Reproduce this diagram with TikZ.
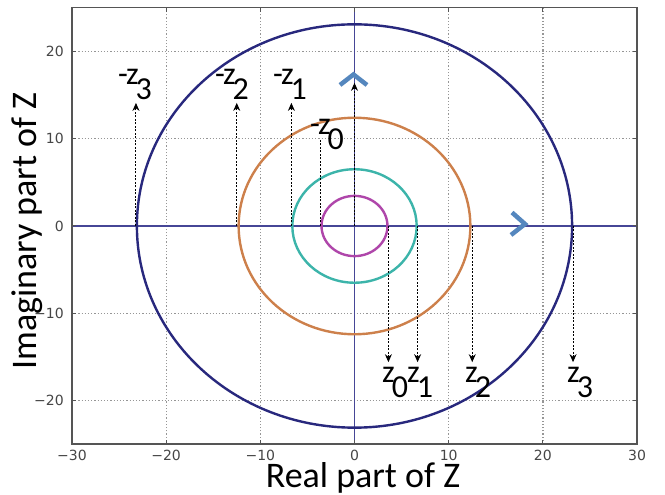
\documentclass[tikz,border=0pt]{standalone}
\usepackage{fontspec}
\setmainfont{Carlito}
\newfontfamily\tickfont{DejaVu Sans}
\usetikzlibrary{arrows.meta}
\definecolor{cblue}{RGB}{40,40,125}
\definecolor{corange}{RGB}{205,128,75}
\definecolor{cteal}{RGB}{60,180,170}
\definecolor{cmag}{RGB}{175,70,170}
\definecolor{caxis}{RGB}{70,70,150}
\definecolor{cchev}{RGB}{85,135,190}
\definecolor{cframe}{RGB}{85,85,85}
\definecolor{ctick}{RGB}{70,70,70}
\definecolor{cgrid}{RGB}{150,150,150}
\newcommand{\zsub}[1]{z\kern-3pt\raisebox{-15pt}{#1}}
\newcommand{\mzsub}[1]{-\kern-2pt\zsub{#1}}
\begin{document}
\begin{tikzpicture}[
  gridline/.style={cgrid, line width=1.2pt, dash pattern=on 1.2pt off 2pt},
  axisline/.style={caxis, line width=1.1pt},
  ring/.style={line width=2.4pt},
  proj/.style={black, line width=1pt, dash pattern=on 2pt off 1.5pt},
  projarrow/.style={proj, -{Stealth[length=8pt,width=7pt]}},
  chev/.style={cchev, line width=4.5pt},
  zlab/.style={font=\fontsize{32}{32}\selectfont, inner sep=0pt, anchor=base west},
  ticklab/.style={font=\tickfont\fontsize{14}{14}\selectfont, text=ctick, inner sep=0pt},
  axlab/.style={font=\fontsize{36}{36}\selectfont, inner sep=0pt},
  tickmark/.style={cframe, line width=1pt},
]
\useasboundingbox (0,0) rectangle (665pt,495pt);
\fill[white] (0,0) rectangle (665pt,495pt);
\begin{scope}[shift={(354.5pt,269pt)}, x=9.42pt, y=8.73pt]
  % grid
  \foreach \v in {-20,-10,10,20} {
    \draw[gridline] (\v,-25) -- (\v,25);
    \draw[gridline] (-30,\v) -- (30,\v);
  }
  % axes
  \draw[axisline] (-30,0) -- (30,0);
  \draw[axisline] (0,-25) -- (0,25);
  % circles
  \draw[ring,cblue] (0,0) ellipse [x radius=23.1, y radius=23.1];
  \draw[ring,corange] (0,0) ellipse [x radius=12.3, y radius=12.4];
  \draw[ring,cteal] (0,0) ellipse [x radius=6.6, y radius=6.5];
  \draw[ring,cmag] (0,0) ellipse [x radius=3.5, y radius=3.45];
  % projection coordinates
  \coordinate (o) at (0,0);
  \coordinate (ctop) at (0,16.4);
  \foreach \n/\x in {0/3.6,1/6.7,2/12.5,3/23.2} {
    \coordinate (pb\n) at (\x,0);
    \coordinate (pt\n) at (\x,-15.6);
    \coordinate (nb\n) at (-\x,0);
  }
  \coordinate (nt1) at (-6.7,14.1);
  \coordinate (nt2) at (-12.5,14.1);
  \coordinate (nt3) at (-23.2,14.1);
  \coordinate (nt0) at (-3.6,9.85);
  \draw[projarrow] (nb1) -- (nt1);
  \draw[projarrow] (nb2) -- (nt2);
  \draw[projarrow] (nb3) -- (nt3);
  \draw[proj] (nb0) -- (nt0);
  \draw[projarrow] (o) -- (ctop);
  \foreach \n in {0,1,2,3} { \draw[projarrow] (pb\n) -- (pt\n); }
  % tick marks
  \foreach \v in {-20,-10,0,10,20} {
    \draw[tickmark] (\v,-25) -- ++(0,4pt);
    \draw[tickmark] (\v,25) -- ++(0,-4pt);
    \draw[tickmark] (-30,\v) -- ++(4pt,0);
    \draw[tickmark] (30,\v) -- ++(-4pt,0);
  }
  % tick labels
  \foreach \v/\t [count=\i] in {-30/−30,-20/−20,-10/−10,0/0,10/10,20/20,30/30} {
    \node[ticklab, anchor=north] (xt\i) at ([yshift=-6pt]\v,-25) {\t};
  }
  \foreach \v/\t [count=\i] in {-20/−20,-10/−10,0/0,10/10,20/20} {
    \node[ticklab, anchor=east] (yt\i) at ([xshift=-8pt]-30,\v) {\t};
  }
  % frame
  \draw[cframe, line width=1.5pt] (-30,-25) rectangle (30,25);
\end{scope}
% chevrons
\draw[chev] (512pt,282.5pt) -- (525pt,271pt) -- (511pt,260pt);
\draw[chev] (340pt,410pt) -- (353.5pt,420.5pt) -- (367pt,410pt);
% labels
\node[zlab] (lm3) at (118pt,410pt) {\mzsub{3}};
\node[zlab] (lm2) at (215pt,410pt) {\mzsub{2}};
\node[zlab] (lm1) at (273pt,410pt) {\mzsub{1}};
\node[zlab] (lm0) at (310pt,360pt) {\mzsub{0}};
\node[zlab] (lp0) at (382pt,112pt) {\zsub{0}};
\node[zlab] (lp1) at (407pt,112pt) {\zsub{1}};
\node[zlab] (lp2) at (465pt,112pt) {\zsub{2}};
\node[zlab] (lp3) at (567pt,112pt) {\zsub{3}};
% axis titles
\node[axlab, anchor=base] (xlab) at (363pt,7.5pt) {Real part of Z};
\node[axlab, anchor=base, rotate=90] (ylab) at (36pt,264pt) {Imaginary part of Z};
\end{tikzpicture}
\end{document}
